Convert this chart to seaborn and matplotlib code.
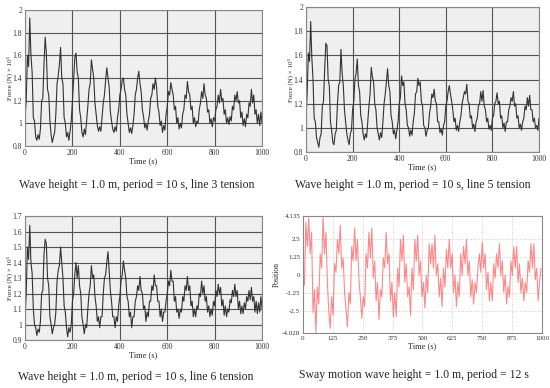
import numpy as np
import matplotlib
matplotlib.use("Agg")
import matplotlib.pyplot as plt
import seaborn as sns

# --- data (5 s sampling for tensions, 6 s for sway) ---
line3_tension = [
    1.05, 1.20, 1.60, 1.50, 1.93, 1.60, 1.45, 1.05, 1.02, 0.88, 0.85, 0.90, 0.86, 0.95,
    1.20, 1.22, 1.52, 1.76, 1.62, 1.30, 1.25, 1.02, 0.90, 0.83, 0.88, 0.92, 1.08, 1.35,
    1.42, 1.52, 1.67, 1.40, 1.35, 1.05, 1.00, 0.88, 0.92, 0.85, 0.93, 1.02, 1.20, 1.38,
    1.58, 1.62, 1.45, 1.40, 1.12, 1.05, 0.92, 0.88, 0.95, 0.90, 1.02, 1.15, 1.30, 1.35,
    1.56, 1.48, 1.40, 1.18, 1.08, 0.98, 0.93, 0.97, 0.93, 1.05, 1.18, 1.25, 1.38, 1.49,
    1.40, 1.32, 1.10, 1.02, 0.95, 0.92, 0.97, 0.93, 1.05, 1.12, 1.25, 1.30, 1.38, 1.40,
    1.30, 1.25, 1.08, 1.00, 0.92, 0.96, 0.91, 0.98, 1.08, 1.25, 1.30, 1.40, 1.46, 1.35,
    1.28, 1.12, 1.06, 0.96, 1.00, 0.94, 1.02, 1.08, 1.22, 1.25, 1.35, 1.30, 1.40, 1.32,
    1.15, 1.10, 0.98, 1.02, 0.92, 0.98, 0.94, 1.08, 1.15, 1.28, 1.25, 1.36, 1.30, 1.25,
    1.12, 1.15, 1.00, 1.05, 0.95, 1.00, 0.96, 1.08, 1.12, 1.25, 1.22, 1.37, 1.28, 1.25,
    1.12, 1.15, 1.00, 1.05, 0.97, 1.02, 1.00, 1.12, 1.18, 1.28, 1.22, 1.35, 1.25, 1.22,
    1.10, 1.12, 1.00, 1.04, 0.97, 1.05, 1.02, 1.12, 1.15, 1.25, 1.18, 1.30, 1.20, 1.22,
    1.08, 1.12, 1.00, 1.05, 0.99, 1.06, 1.02, 1.15, 1.12, 1.25, 1.20, 1.28, 1.18, 1.20,
    1.05, 1.10, 0.98, 1.04, 0.97, 1.08, 1.05, 1.18, 1.15, 1.30, 1.18, 1.25, 1.08, 1.12,
    1.00, 1.08, 0.98, 1.10, 1.00,
]

line5_tension = [
    1.08, 1.30, 1.62, 1.55, 1.88, 1.58, 1.40, 1.08, 1.05, 0.92, 0.88, 0.84, 0.92, 0.95,
    1.18, 1.22, 1.48, 1.70, 1.68, 1.40, 1.35, 1.05, 0.98, 0.88, 0.86, 0.95, 0.98, 1.20,
    1.35, 1.38, 1.65, 1.45, 1.35, 1.15, 1.05, 0.95, 0.90, 0.86, 0.95, 0.98, 1.15, 1.22,
    1.40, 1.45, 1.57, 1.35, 1.30, 1.10, 1.05, 0.95, 0.90, 0.95, 0.92, 1.05, 1.18, 1.28,
    1.50, 1.42, 1.38, 1.20, 1.15, 1.00, 0.95, 0.90, 0.96, 0.92, 1.05, 1.20, 1.28, 1.38,
    1.49, 1.35, 1.30, 1.10, 1.05, 0.95, 0.98, 0.91, 0.98, 1.05, 1.20, 1.25, 1.43, 1.35,
    1.38, 1.20, 1.15, 1.02, 1.00, 0.93, 0.98, 0.94, 1.05, 1.12, 1.28, 1.30, 1.41, 1.35,
    1.38, 1.22, 1.18, 1.02, 1.00, 0.93, 0.98, 1.00, 1.12, 1.18, 1.28, 1.25, 1.32, 1.22,
    1.20, 1.05, 1.05, 0.96, 0.99, 0.94, 1.02, 1.05, 1.18, 1.22, 1.30, 1.35, 1.28, 1.22,
    1.15, 1.05, 1.08, 0.98, 1.02, 0.97, 1.05, 1.10, 1.20, 1.25, 1.30, 1.28, 1.36, 1.22,
    1.20, 1.08, 1.10, 1.00, 1.03, 0.97, 1.05, 1.08, 1.18, 1.20, 1.30, 1.22, 1.31, 1.18,
    1.15, 1.05, 1.08, 0.99, 1.02, 0.98, 1.08, 1.10, 1.20, 1.22, 1.29, 1.20, 1.22, 1.08,
    1.10, 1.00, 1.04, 0.97, 1.05, 1.05, 1.15, 1.18, 1.25, 1.22, 1.30, 1.18, 1.20, 1.08,
    1.10, 1.00, 1.03, 0.98, 1.05, 1.08, 1.18, 1.15, 1.25, 1.18, 1.27, 1.15, 1.15, 1.05,
    1.08, 1.00, 1.02, 0.98, 1.08,
]

line6_tension = [
    1.05, 1.20, 1.50, 1.42, 1.64, 1.40, 1.33, 1.10, 1.00, 0.98, 0.93, 0.97, 0.95, 1.02,
    1.20, 1.22, 1.45, 1.55, 1.52, 1.30, 1.25, 1.05, 1.00, 0.94, 0.98, 1.00, 1.08, 1.28,
    1.35, 1.38, 1.50, 1.40, 1.30, 1.12, 1.08, 0.98, 0.92, 0.98, 0.95, 1.00, 1.15, 1.20,
    1.32, 1.40, 1.30, 1.38, 1.25, 1.20, 1.05, 1.00, 0.94, 1.00, 0.98, 1.10, 1.20, 1.25,
    1.38, 1.30, 1.32, 1.18, 1.12, 1.02, 1.05, 0.98, 1.05, 1.05, 1.20, 1.30, 1.32, 1.40,
    1.47, 1.35, 1.22, 1.15, 1.05, 1.05, 0.98, 1.05, 1.02, 1.12, 1.18, 1.28, 1.32, 1.41,
    1.35, 1.30, 1.18, 1.15, 1.05, 1.08, 0.98, 1.05, 1.05, 1.15, 1.18, 1.25, 1.22, 1.31,
    1.22, 1.20, 1.10, 1.12, 1.02, 1.08, 1.05, 1.15, 1.15, 1.25, 1.22, 1.32, 1.25, 1.25,
    1.15, 1.15, 1.05, 1.10, 1.02, 1.08, 1.08, 1.15, 1.20, 1.28, 1.25, 1.35, 1.28, 1.28,
    1.15, 1.18, 1.08, 1.10, 1.04, 1.10, 1.08, 1.18, 1.15, 1.25, 1.22, 1.31, 1.22, 1.25,
    1.12, 1.15, 1.05, 1.10, 1.05, 1.12, 1.10, 1.20, 1.18, 1.28, 1.20, 1.25, 1.15, 1.18,
    1.08, 1.12, 1.05, 1.10, 1.06, 1.15, 1.12, 1.22, 1.18, 1.26, 1.20, 1.24, 1.12, 1.16,
    1.06, 1.12, 1.05, 1.10, 1.08, 1.16, 1.14, 1.22, 1.18, 1.26, 1.18, 1.22, 1.10, 1.15,
    1.07, 1.12, 1.07, 1.14, 1.10, 1.18, 1.15, 1.22, 1.16, 1.24, 1.15, 1.18, 1.08, 1.15,
    1.07, 1.14, 1.08, 1.18, 1.10,
]

sway_position = [
    0.0, -0.7, 3.7, 2.0, 4.0, 1.5, 3.0, -2.6, -1.0, -4.0, -0.8, -2.0, 1.5, 0.5,
    4.1, 1.5, 3.0, -0.5, -2.5, -3.7, -1.5, -2.8, 0.8, 0.2, 2.5, 1.5, 3.5, 0.5,
    1.2, -1.2, -2.4, -3.6, -1.2, -2.0, 2.0, 1.0, 3.3, 1.0, 2.5, -0.3, -1.5, -3.0,
    -1.5, -2.2, 1.5, 0.5, 3.0, 1.2, 3.3, -0.2, 1.0, -1.8, -0.5, -3.1, -1.0, -1.5,
    1.2, 0.5, 3.0, 0.8, 1.5, -1.8, -0.5, -2.9, -1.2, -2.9, 0.5, -0.8, 2.5, 1.0,
    2.8, -0.5, 0.8, -1.5, -0.8, -2.8, 0.5, -1.0, 2.5, 1.0, 2.8, 0.0, 1.0, -1.5,
    -0.5, -2.3, 0.0, -1.2, 2.2, 0.8, 2.2, 0.5, 2.8, 0.0, 0.8, -1.5, -0.2, -2.2,
    0.5, -0.8, 1.8, 0.5, 2.5, 0.5, 1.5, -1.2, 0.0, -2.2, -0.5, -1.5, 1.5, 0.0,
    2.0, 0.8, 2.5, 0.0, 1.0, -1.5, -0.3, -2.0, -0.5, -1.2, 0.5, 1.5, 0.2, 2.3,
    0.5, 1.5, -1.0, 0.2, -1.8, -0.5, -1.8, 0.8, -0.2, 1.5, 0.5, 2.2, 0.0, 1.0,
    -1.2, 0.0, -2.0, -0.8, -1.5, 1.0, 0.0, 2.0, 0.5, 2.0, -0.5, 0.8, -1.2, -0.2,
    -1.8, -0.5, -1.2, 1.0, 0.2, 2.2, 0.5, 2.2, -0.3, 0.5, -1.8, -0.5, 0.5,
]

tension_step = 5  # s between samples
sway_step = 6

captions = [
    "Wave height = 1.0 m, period = 10 s, line 3 tension",
    "Wave height = 1.0 m, period = 10 s, line 5 tension",
    "Wave height = 1.0 m, period = 10 s, line 6 tension",
    "Sway motion wave height = 1.0 m, period = 12 s",
]

sns.set_theme(style="white")
plt.rcParams['font.family'] = ['Liberation Serif', 'DejaVu Serif']

fig = plt.figure(figsize=(5.5, 3.88), dpi=100)

# axes rectangles in figure fractions
ax1 = fig.add_axes([0.0455, 0.6237, 0.431, 0.3505])
ax2 = fig.add_axes([0.5564, 0.6082, 0.4236, 0.3737])
ax3 = fig.add_axes([0.0455, 0.1237, 0.431, 0.3196])
ax4 = fig.add_axes([0.5509, 0.1418, 0.4345, 0.3015])


def tension_panel(ax, values, ymin, ymax, yticks, ylabels):
    t = np.arange(len(values)) * tension_step
    sns.lineplot(x=t, y=values, ax=ax, color='#333333', linewidth=0.8)
    ax.set_facecolor('#efefef')
    ax.set_xlim(0, 1000)
    ax.set_ylim(ymin, ymax)
    ax.set_xticks([0, 200, 400, 600, 800, 1000])
    ax.set_yticks(yticks)
    ax.set_yticklabels(ylabels)
    ax.grid(True, color='#555555', linewidth=0.8)
    ax.set_axisbelow(True)
    for s in ax.spines.values():
        s.set_color('#888888')
        s.set_linewidth(0.8)
    ax.tick_params(labelsize=5.5, length=0, pad=2, colors='#333333')
    ax.set_xlabel('Time (s)', fontsize=6, labelpad=0)
    ax.set_ylabel('Force (N) × 10⁵', fontsize=5)
    ax.yaxis.set_label_coords(-0.05, 0.5)


tension_panel(ax1, line3_tension, 0.8, 2.0,
              [0.8, 1.0, 1.2, 1.4, 1.6, 1.8, 2.0],
              ['0.8', '1', '1.2', '1.4', '1.6', '1.8', '2'])
tension_panel(ax2, line5_tension, 0.8, 2.0,
              [0.8, 1.0, 1.2, 1.4, 1.6, 1.8, 2.0],
              ['0.8', '1', '1.2', '1.4', '1.6', '1.8', '2'])
tension_panel(ax3, line6_tension, 0.9, 1.7,
              [0.9, 1.0, 1.1, 1.2, 1.3, 1.4, 1.5, 1.6, 1.7],
              ['0.9', '1', '1.1', '1.2', '1.3', '1.4', '1.5', '1.6', '1.7'])

# sway panel
t4 = np.arange(len(sway_position)) * sway_step
sns.lineplot(x=t4, y=sway_position, ax=ax4, color='#ff3b3b', alpha=0.6, linewidth=0.8)
ax4.set_facecolor('white')
ax4.set_xlim(0, 1000)
ax4.set_ylim(-4.028, 4.135)
ax4.set_xticks(np.arange(0, 1001, 125))
ax4.set_yticks([-4.028, -2.5, -1.25, 0, 1.25, 2.5, 4.135])
ax4.set_yticklabels(['-4.028', '-2.5', '-1.25', '0', '1.25', '2.5', '4.135'])
ax4.grid(True, color='#cccccc', linestyle=':', linewidth=0.7)
for s in ax4.spines.values():
    s.set_color('#888888')
    s.set_linewidth(0.8)
ax4.tick_params(labelsize=5, length=0, pad=2, colors='#333333')
ax4.set_xlabel('Time (s)', fontsize=6, labelpad=1)
ax4.set_ylabel('Position', fontsize=5.5, labelpad=1)

# captions under each panel
fig.text(0.249, 0.523, captions[0], ha='center', va='center', fontsize=8.5)
fig.text(0.751, 0.523, captions[1], ha='center', va='center', fontsize=8.5)
fig.text(0.246, 0.028, captions[2], ha='center', va='center', fontsize=8.5)
fig.text(0.752, 0.033, captions[3], ha='center', va='center', fontsize=8.5)

fig.savefig('out.png', dpi=100)
